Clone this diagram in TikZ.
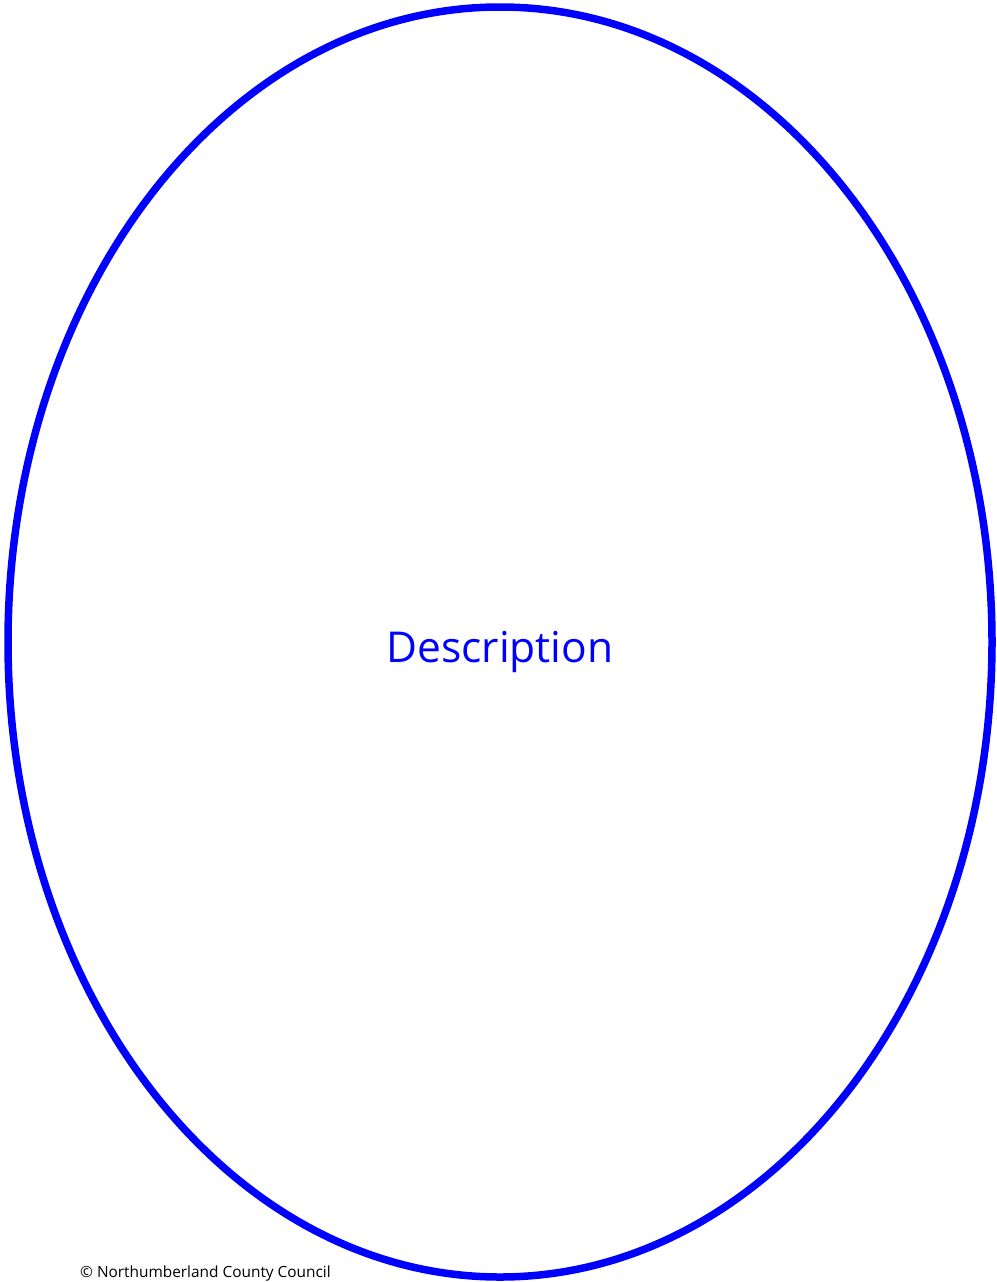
\documentclass[tikz,border=0pt]{standalone}
\usepackage{fontspec}
\setmainfont{Open Sans}
\definecolor{ringblue}{RGB}{0,0,255}
\begin{document}
\begin{tikzpicture}[x=1pt,y=-1pt,
  ring/.style={draw=ringblue,line width=7.5pt},
  title/.style={text=ringblue,font=\fontsize{42.5}{50}\selectfont,inner sep=0pt,anchor=base},
  credit/.style={text=black,font=\fontsize{15.4}{18}\selectfont,inner sep=0pt,anchor=base west}]
\useasboundingbox (0,0) rectangle (996,1282);
\fill[white] (0,0) rectangle (996,1282);
\draw[ring] (500,642) ellipse [x radius=492, y radius=635];
\node[title] (desc) at (500,662) {Description};
\node[credit] (copy) at (80,1277.5) {© Northumberland County Council};
\end{tikzpicture}
\end{document}
